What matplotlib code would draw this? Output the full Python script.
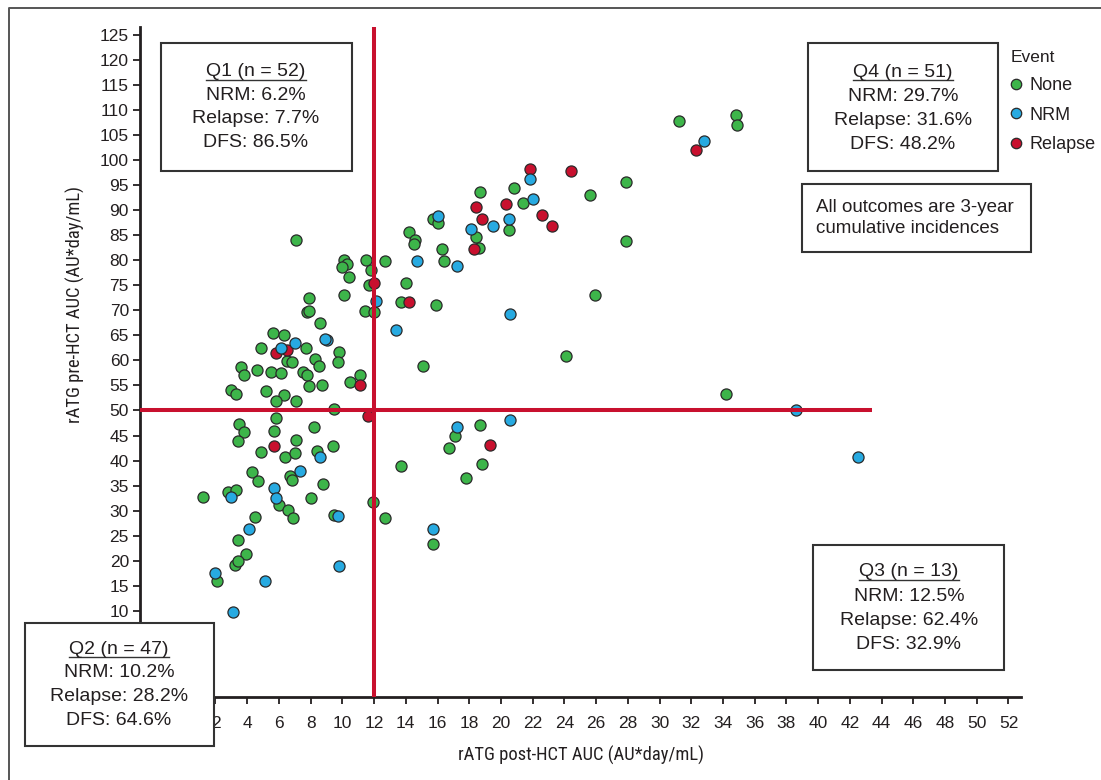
import matplotlib
matplotlib.use("Agg")
import matplotlib.pyplot as plt
from matplotlib import font_manager
from matplotlib.font_manager import FontProperties
from matplotlib.patches import Rectangle
from matplotlib.lines import Line2D

plt.rcParams["font.family"] = ["Liberation Sans", "DejaVu Sans"]

# ---- data (rATG post-HCT AUC, rATG pre-HCT AUC) ----
none_x = [7.1, 10.1, 10.3, 10.0, 11.5, 12.7, 11.8, 10.4, 11.7, 10.1, 13.7, 7.9, 7.8, 7.9,
          11.4, 12.0, 8.6, 5.6, 6.3, 4.9, 7.7, 9.8, 6.5, 6.8, 8.3, 8.5, 9.7, 3.6, 3.8, 4.6,
          5.5, 6.1, 7.5, 7.8, 11.1, 10.5, 7.9, 8.7, 3.0, 3.3, 5.2, 6.3, 5.8, 7.1, 9.5,
          5.8, 3.5, 8.2, 5.7, 3.8, 3.4, 7.1, 4.9, 6.4, 7.0, 8.4, 9.4, 4.3, 4.7, 6.7, 6.8,
          8.8, 1.2, 2.8, 3.3, 6.0, 6.6, 6.9, 8.0, 11.9, 12.7, 4.5, 3.4, 3.9, 3.2, 3.4, 9.5,
          2.1, 13.7, 27.9, 20.8, 18.7, 25.6, 21.4, 15.7, 16.0, 20.5, 14.2, 14.6, 14.5, 18.4,
          18.6, 16.3, 27.9, 16.4, 14.0, 15.9, 25.9, 24.1, 15.1, 18.7, 17.1, 16.7, 18.8,
          17.8, 15.7, 31.2, 34.8, 34.9, 34.2]
none_y = [84.0, 80.0, 79.3, 78.6, 80.1, 79.8, 78.1, 76.7, 75.0, 73.0, 71.6, 72.4, 69.7, 69.8,
          69.8, 69.6, 67.4, 65.4, 65.0, 62.5, 62.5, 61.7, 59.9, 59.7, 60.3, 58.9, 59.6, 58.6,
          57.0, 58.1, 57.7, 57.5, 57.7, 57.0, 57.1, 55.7, 54.9, 55.0, 54.1, 53.3, 53.8, 53.1,
          51.8, 51.9, 50.3, 48.5, 47.3, 46.7, 46.0, 45.8, 43.9, 44.2, 41.7, 40.7, 41.5, 41.9,
          42.9, 37.8, 35.9, 37.0, 36.2, 35.3, 32.7, 33.8, 34.2, 31.1, 30.2, 28.6, 32.6, 31.8,
          28.6, 28.8, 24.1, 21.4, 19.2, 19.9, 29.2, 16.0, 38.9, 95.6, 94.4, 93.6, 93.0, 91.4,
          88.1, 87.4, 86.0, 85.6, 84.0, 83.2, 84.6, 82.5, 82.2, 83.8, 79.9, 75.5, 71.0, 73.0,
          60.9, 58.8, 47.2, 45.0, 42.5, 39.3, 36.6, 23.4, 107.8, 108.9, 106.9, 53.3]

nrm_x = [12.1, 13.4, 7.0, 9.0, 8.9, 6.1, 8.6, 7.3, 3.0, 5.7, 5.8, 9.7, 4.1, 9.8, 2.0, 5.1,
         3.1, 21.8, 22.0, 20.5, 19.5, 18.1, 16.0, 14.7, 17.2, 20.6, 17.2, 20.6, 15.7, 32.8,
         38.6, 42.5]
nrm_y = [71.8, 66.0, 63.5, 64.0, 64.3, 62.5, 40.7, 38.0, 32.8, 34.5, 32.6, 28.9, 26.4, 18.9,
         17.5, 16.0, 9.8, 96.2, 92.1, 88.1, 86.8, 86.2, 88.7, 79.8, 78.8, 69.2, 46.7, 48.0,
         26.4, 103.8, 50.0, 40.8]

relapse_x = [12.0, 5.8, 6.5, 11.1, 11.6, 5.7, 14.2, 21.8, 24.4, 20.3, 18.4, 22.6, 18.8, 23.2,
             18.3, 19.3, 32.3]
relapse_y = [75.5, 61.5, 62.1, 55.0, 48.8, 42.9, 71.6, 98.1, 97.8, 91.2, 90.5, 88.9, 88.1,
             86.8, 82.2, 43.1, 101.9]

x_ticks = list(range(2, 53, 2))
y_ticks = list(range(10, 126, 5))
x_cut, y_cut = 12, 50

quadrants = {
    "Q1": ["Q1 (n = 52)", "NRM: 6.2%", "Relapse: 7.7%", "DFS: 86.5%"],
    "Q2": ["Q2 (n = 47)", "NRM: 10.2%", "Relapse: 28.2%", "DFS: 64.6%"],
    "Q3": ["Q3 (n = 13)", "NRM: 12.5%", "Relapse: 62.4%", "DFS: 32.9%"],
    "Q4": ["Q4 (n = 51)", "NRM: 29.7%", "Relapse: 31.6%", "DFS: 48.2%"],
}
note = "All outcomes are 3-year\ncumulative incidences"

GREEN, BLUE, RED = "#3db54a", "#27aae1", "#c8102e"
LINE_RED = "#c8102e"
INK = "#231f20"


def narrow_font():
    """Look for a condensed sans face for the axis titles."""
    for fam in ["Liberation Sans Narrow", "Roboto Condensed", "Open Sans Condensed",
                "Noto Sans Condensed", "DejaVu Sans Condensed"]:
        try:
            return FontProperties(fname=font_manager.findfont(fam, fallback_to_default=False))
        except Exception:
            pass
    for fam in ["Roboto", "Noto Sans", "Open Sans", "DejaVu Sans"]:
        try:
            p = font_manager.findfont(FontProperties(family=fam, stretch="condensed"),
                                      fallback_to_default=False)
            if "ondensed" in p or "arrow" in p:
                return FontProperties(fname=p)
        except Exception:
            pass
    return FontProperties(family="Liberation Sans")


W, H = 1101, 780
fig = plt.figure(figsize=(W / 100, H / 100), dpi=100)
ax = fig.add_axes([140 / W, 1 - 696.7 / H, (1020.7 - 140) / W, (696.7 - 27) / H])

kw = dict(s=64, edgecolors="#2a2a2a", linewidths=0.9, zorder=3, clip_on=False)
ax.scatter(none_x, none_y, c=GREEN, label="None", **kw)
ax.scatter(relapse_x, relapse_y, c=RED, label="Relapse", **kw)
ax.scatter(nrm_x, nrm_y, c=BLUE, label="NRM", **kw)

ax.axvline(x_cut, ymin=0, ymax=1, color=LINE_RED, lw=2.9, zorder=4)
ax.plot([-2.76, 43.4], [y_cut, y_cut], color=LINE_RED, lw=2.9, zorder=4, solid_capstyle="butt")

ax.set_xlim(-2.76, 52.77)
ax.set_ylim(-7.1, 126.5)
ax.set_xticks(x_ticks)
ax.set_yticks(y_ticks)
for s in ["top", "right"]:
    ax.spines[s].set_visible(False)
for s in ["left", "bottom"]:
    ax.spines[s].set_linewidth(2.0)
    ax.spines[s].set_color(INK)
ax.tick_params(axis="both", direction="out", length=5, width=1.3, colors=INK, labelsize=12.5)
ax.tick_params(axis="x", pad=9)
ax.tick_params(axis="y", pad=3)

renderer = fig.canvas.get_renderer()

# axis titles, sized so the x title is ~246 px wide like the reference
lab_fp = narrow_font()
lab_fp.set_size(14)
xl = fig.text(581 / W, 1 - 755 / H, "rATG post-HCT AUC (AU*day/mL)", ha="center", va="center",
              color=INK, fontproperties=lab_fp)
wpx = xl.get_window_extent(renderer).width
lab_fp.set_size(min(15.5, 14 * 246 / wpx))
xl.set_fontproperties(lab_fp)
fig.text(75 / W, 1 - 305 / H, "rATG pre-HCT AUC (AU*day/mL)", ha="center", va="center",
         rotation=90, color=INK, fontproperties=lab_fp)

# legend
handles = [Line2D([], [], marker="o", ls="", ms=7.5, mfc=c, mec="#2a2a2a", mew=0.9)
           for c in (GREEN, BLUE, RED)]
leg = fig.legend(handles, ["None", "NRM", "Relapse"], title="Event", loc="upper left",
                 bbox_to_anchor=(1011 / W, 1 - 50 / H), frameon=False, fontsize=13,
                 title_fontsize=12.5, handlelength=0.6, handletextpad=0.45,
                 labelspacing=0.68, borderpad=0, borderaxespad=0, alignment="left")
for t in leg.get_texts():
    t.set_color(INK)
leg.get_title().set_color(INK)

# quadrant boxes: (left, top, right, bottom, centre x, line y's) in pixels
box_geom = {
    "Q1": (161, 43.3, 352, 170.7, 256, [71.7, 95.7, 118.7, 142.7]),
    "Q4": (808, 43.3, 998, 171, 903, [72.3, 96.7, 120.7, 144.3]),
    "Q3": (813, 545, 1004, 670, 909, [571.7, 596.7, 620.3, 644.3]),
    "Q2": (25, 623.3, 214.3, 746, 119, [649, 672.3, 696.7, 720.7]),
}
for q, (x0, y0, x1, y1, cx, ys) in box_geom.items():
    fig.add_artist(Rectangle((x0 / W, 1 - y1 / H), (x1 - x0) / W, (y1 - y0) / H,
                             transform=fig.transFigure, fc="white", ec="#333333",
                             lw=1.5, zorder=5))
    for i, (ly, txt) in enumerate(zip(ys, quadrants[q])):
        t = fig.text(cx / W, 1 - ly / H, txt, ha="center", va="center", fontsize=14,
                     color=INK, zorder=6)
        if i == 0:
            bb = t.get_window_extent(renderer)
            uy = 1 - (ly + 8) / H
            fig.add_artist(Line2D([bb.x0 / W, bb.x1 / W], [uy, uy], transform=fig.transFigure,
                                  color="#333333", lw=1.0, zorder=6))

# note box
fig.add_artist(Rectangle((802 / W, 1 - 252 / H), 229 / W, 68 / H, transform=fig.transFigure,
                         fc="white", ec="#333333", lw=1.5, zorder=5))
fig.text(816 / W, 1 - 218 / H, note, ha="left", va="center", fontsize=13.5, color=INK,
         linespacing=1.3, zorder=6)

# outer frame (left and top edges visible)
fig.add_artist(Line2D([9 / W, 9 / W, 1.0], [0.0, 1 - 8 / H, 1 - 8 / H], transform=fig.transFigure,
                      color="#555555", lw=1.4, zorder=7))

fig.savefig("out.png", dpi=100)
